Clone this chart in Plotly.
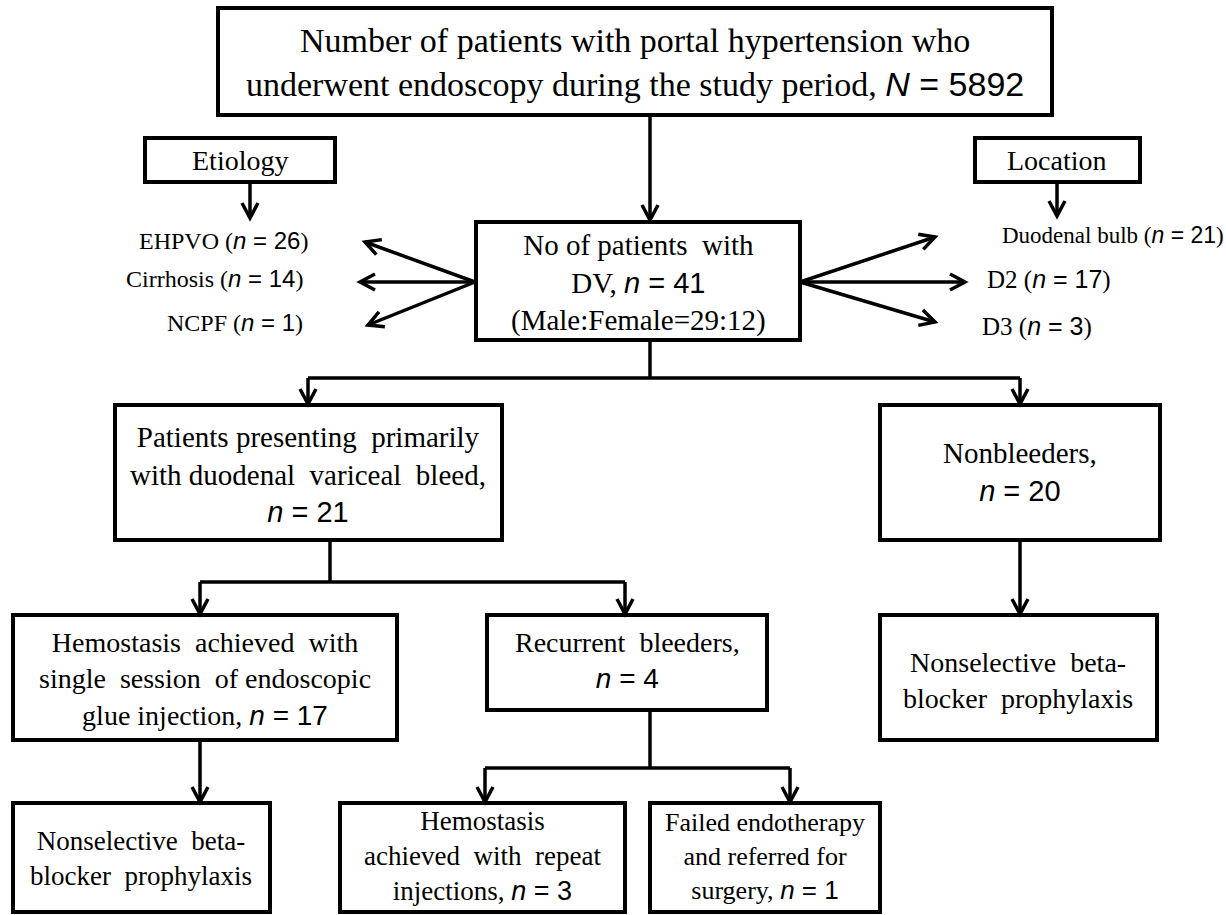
import math
import plotly.graph_objects as go

# ---------------- data (counts and labels) ----------------
N_total = 5892
n_dv = 41
sex_ratio = ["29", "12"]
etiology_names = ["EHPVO", "Cirrhosis", "NCPF"]
etiology_n = [26, 14, 1]
location_names = ["Duodenal bulb", "D2", "D3"]
location_n = [21, 17, 3]
n_bleeders = 21
n_nonbleeders = 20
n_single_session = 17
n_recurrent = 4
n_repeat = 3
n_failed = 1

SERIF = "Liberation Serif, Times New Roman, serif"
SANS = "Liberation Sans, Arial, sans-serif"


def sans(s):
    return f'<span style="font-family:{SANS}">{s}</span>'


def nval(v, sym="n"):
    return sans(f"<i>{sym}</i> = {v}")


box_text = {
    "top": ["Number of patients with portal hypertension who",
            f"underwent endoscopy during the study period, {nval(N_total, 'N')}"],
    "etiology": ["Etiology"],
    "location": ["Location"],
    "dv": ["No of patients  with", f"DV, {nval(n_dv)}",
           f"(Male:Female={sex_ratio[0]}:{sex_ratio[1]})"],
    "bleed": ["Patients presenting  primarily", "with duodenal  variceal  bleed,",
              nval(n_bleeders)],
    "nonbleed": ["Nonbleeders,", nval(n_nonbleeders)],
    "hemo1": ["Hemostasis  achieved  with", "single  session  of endoscopic",
              f"glue injection, {nval(n_single_session)}"],
    "recur": ["Recurrent  bleeders,", nval(n_recurrent)],
    "nsbb_r": ["Nonselective  beta-", "blocker  prophylaxis"],
    "nsbb_l": ["Nonselective  beta-", "blocker  prophylaxis"],
    "hemo_rep": ["Hemostasis", "achieved  with  repeat", f"injections, {nval(n_repeat)}"],
    "failed": ["Failed endotherapy", "and referred for", f"surgery, {nval(n_failed)}"],
}

# ---------------- layout (pixel geometry) ----------------
W, H = 1226, 915
boxes = {  # x0, y0, x1, y1
    "top": (218, 8, 1052, 115),
    "etiology": (145, 138, 335, 182),
    "location": (975, 138, 1140, 182),
    "dv": (476, 222, 800, 340),
    "bleed": (115, 405, 502, 540),
    "nonbleed": (880, 405, 1160, 540),
    "hemo1": (13, 615, 397, 740),
    "recur": (487, 615, 767, 710),
    "nsbb_r": (880, 615, 1157, 740),
    "nsbb_l": (13, 803, 270, 912),
    "hemo_rep": (340, 803, 625, 912),
    "failed": (650, 803, 880, 912),
}
font_size = {"top": 34, "etiology": 28, "location": 28, "dv": 29, "bleed": 29,
             "nonbleed": 29, "hemo1": 28, "recur": 28, "nsbb_r": 28, "nsbb_l": 27,
             "hemo_rep": 27, "failed": 26}
text_center = {"top": (635, 62), "dv": (638, 283), "bleed": (308, 474),
               "nonbleed": (1020, 472), "hemo1": (205, 679), "recur": (627, 660),
               "nsbb_r": (1018, 680), "nsbb_l": (141, 858), "hemo_rep": (482, 856),
               "failed": (765, 856), "etiology": (240, 160), "location": (1057, 160)}

shapes = []
annotations = []
LW_BOX = 4
LW_LINE = 3.5


def line(x0, y0, x1, y1):
    shapes.append(dict(type="line", x0=x0, y0=y0, x1=x1, y1=y1,
                       line=dict(color="black", width=LW_LINE)))


def arrow(x0, y0, x1, y1, hl=15, hw=8):
    line(x0, y0, x1, y1)
    dx, dy = x1 - x0, y1 - y0
    L = math.hypot(dx, dy)
    ux, uy = dx / L, dy / L
    px, py = -uy, ux
    bx, by = x1 - ux * hl, y1 - uy * hl
    path = (f"M {bx + px * hw},{by + py * hw} L {x1},{y1} "
            f"L {bx - px * hw},{by - py * hw}")
    shapes.append(dict(type="path", path=path,
                       line=dict(color="black", width=LW_LINE)))


for key, (x0, y0, x1, y1) in boxes.items():
    shapes.append(dict(type="rect", x0=x0, y0=y0, x1=x1, y1=y1,
                       line=dict(color="black", width=LW_BOX), fillcolor="white",
                       layer="below"))
    cx, cy = text_center[key]
    annotations.append(dict(x=cx, y=cy, text="<br>".join(box_text[key]),
                            showarrow=False, xanchor="center", yanchor="middle",
                            font=dict(family=SERIF, size=font_size[key],
                                      color="black")))

# side lists
etio_pos = [(310, 240), (305, 278), (305, 322)]
etio_size = [24, 24, 24]
for name, v, (x, y), fs in zip(etiology_names, etiology_n, etio_pos, etio_size):
    annotations.append(dict(x=x, y=y, text=f"{name} ({nval(v)})", showarrow=False,
                            xanchor="right", yanchor="middle",
                            font=dict(family=SERIF, size=fs, color="black")))
loc_pos = [(1000, 235), (985, 279), (980, 326)]
loc_size = [23, 25, 25]
for name, v, (x, y), fs in zip(location_names, location_n, loc_pos, loc_size):
    annotations.append(dict(x=x, y=y, text=f"{name} ({nval(v)})", showarrow=False,
                            xanchor="left", yanchor="middle",
                            font=dict(family=SERIF, size=fs, color="black")))

# connectors
arrow(650, 115, 650, 220)
arrow(250, 182, 250, 218)
arrow(1057, 182, 1057, 216)
for ex, ey in [(365, 242), (360, 282), (368, 325)]:
    arrow(475, 282, ex, ey)
for ex, ey in [(935, 237), (965, 282), (935, 322)]:
    arrow(800, 282, ex, ey)
line(650, 340, 650, 378)
line(308, 378, 1020, 378)
arrow(308, 378, 308, 404)
arrow(1020, 378, 1020, 404)
line(330, 540, 330, 582)
line(200, 582, 625, 582)
arrow(200, 582, 200, 614)
arrow(625, 582, 625, 614)
arrow(1020, 540, 1020, 614)
arrow(200, 740, 200, 802)
line(650, 710, 650, 768)
line(485, 768, 790, 768)
arrow(485, 768, 485, 802)
arrow(790, 768, 790, 802)

fig = go.Figure()
fig.update_layout(
    width=W, height=H, margin=dict(l=0, r=0, t=0, b=0),
    paper_bgcolor="white", plot_bgcolor="white",
    xaxis=dict(range=[0, W], visible=False, fixedrange=True),
    yaxis=dict(range=[H, 0], visible=False, fixedrange=True),
    shapes=shapes, annotations=annotations, showlegend=False,
)
fig.write_html("out.html", config={"displayModeBar": False},
               post_script="document.body.style.margin='0';")
